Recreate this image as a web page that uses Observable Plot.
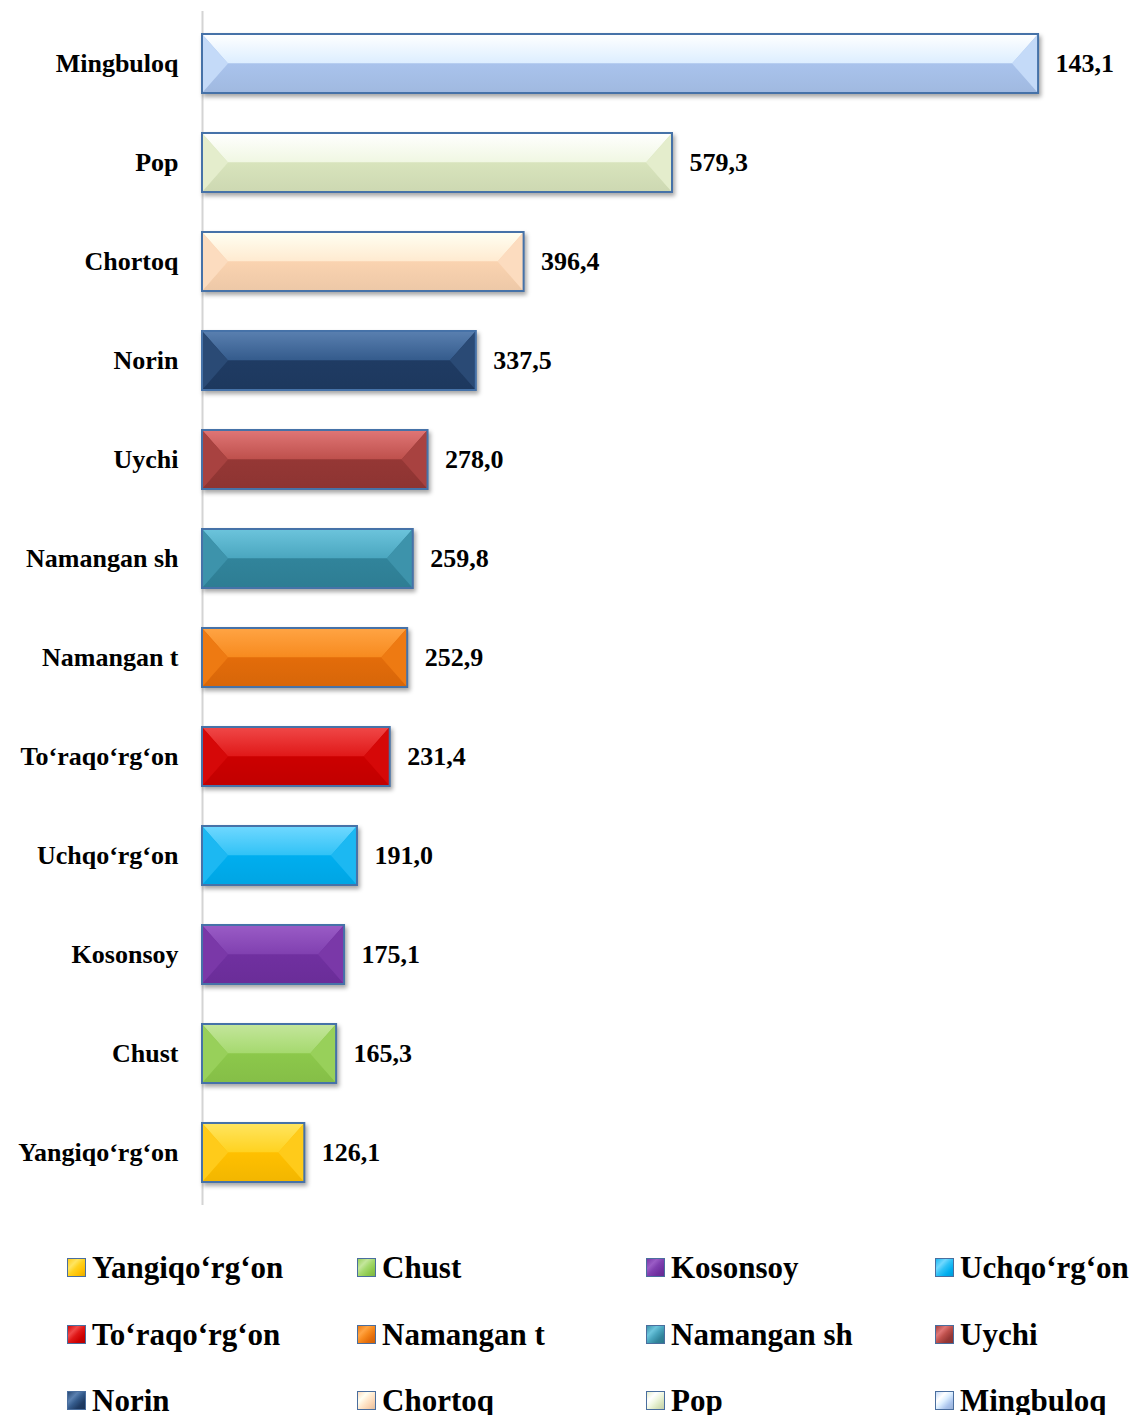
<!DOCTYPE html>
<html>
<head>
<meta charset="utf-8">
<script src="https://cdn.jsdelivr.net/npm/d3@7"></script>
<script src="https://cdn.jsdelivr.net/npm/@observablehq/plot@0.6"></script>
<style>
  body { margin: 0; background: #fff; width: 1133px; height: 1415px; overflow: hidden; }
  #wrap { position: relative; width: 1133px; height: 1415px; }
  #chart { position: absolute; left: 0; top: 0; }
  .leg { position: absolute; display: flex; align-items: center; font-family: "Liberation Serif", "Times New Roman", serif; font-weight: bold; font-size: 31px; color: #000; white-space: nowrap; line-height: 1; }
  .sw { width: 19px; height: 19px; box-sizing: border-box; border: 1.5px solid #4A6E9E; margin-right: 6px; position: relative; overflow: hidden; }
</style>
</head>
<body>
<div id="wrap">
  <div id="chart"></div>
  <div id="legend"></div>
</div>
<script>
// Categories, bottom to top as drawn
const categories = ["Yangiqo‘rg‘on", "Chust", "Kosonsoy", "Uchqo‘rg‘on", "To‘raqo‘rg‘on", "Namangan t", "Namangan sh", "Uychi", "Norin", "Chortoq", "Pop", "Mingbuloq"];
// Bar lengths
const values = [126.1, 165.3, 175.1, 191.0, 231.4, 252.9, 259.8, 278.0, 337.5, 396.4, 579.3, 1030.5];
// Value labels as printed on the chart
const valueLabels = ["126,1", "165,3", "175,1", "191,0", "231,4", "252,9", "259,8", "278,0", "337,5", "396,4", "579,3", "143,1"];
// Colours: base (lower face), top highlight, top-face bottom, side bevels
const baseColors = ["#FFC000", "#8CC84B", "#7030A0", "#00AEEF", "#CC0000", "#E36C0A", "#31849B", "#953735", "#1F3B63", "#FAD3B0", "#D8E4BC", "#A9C3EC"];
const topColors  = ["#FFE560", "#C4E69C", "#9A5CC6", "#70D8FF", "#F04848", "#FFA444", "#6CC4DC", "#E07676", "#5A80B0", "#FFFFF2", "#FFFFFF", "#FFFFFF"];
const midColors  = ["#FFD21F", "#A5D96E", "#8040B0", "#30C2F6", "#E01818", "#F78A1E", "#4AA6BF", "#BE504C", "#345B8C", "#FFEAD0", "#F0F7E2", "#DCEEFF"];
const sideColors = ["#FFCB1A", "#98D05A", "#7A38A8", "#1CB8F2", "#D60808", "#EE7A12", "#3D93AB", "#A84240", "#2A4A75", "#FCDCBF", "#E4EDCC", "#C4DAF8"];

const data = categories.map((c, i) => ({ cat: c, value: values[i], label: valueLabels[i], i }));
const yDomain = categories.slice().reverse();

const NS = "http://www.w3.org/2000/svg";
function el(tag, attrs) {
  const e = document.createElementNS(NS, tag);
  for (const k in attrs) e.setAttribute(k, attrs[k]);
  return e;
}
function bevel(index, scales, vals, dimensions, context, next) {
  const g = next(index, scales, vals, dimensions, context);
  const defs = el("defs", {});
  g.insertBefore(defs, g.firstChild);
  g.setAttribute("style", "filter: drop-shadow(2px 3px 2px rgba(0,0,0,0.35))");
  const rects = Array.from(g.querySelectorAll("rect"));
  rects.forEach((r, k) => {
    const i = data[index[k]].i;
    const x = +r.getAttribute("x"), y = +r.getAttribute("y"), w = +r.getAttribute("width"), h = +r.getAttribute("height");
    const b = Math.min(26, w / 2, h / 2);
    const ym = y + h / 2;
    const gt = el("linearGradient", { id: "gt" + i, x1: 0, y1: 0, x2: 0, y2: 1 });
    gt.appendChild(el("stop", { offset: "0%", "stop-color": topColors[i] }));
    gt.appendChild(el("stop", { offset: "100%", "stop-color": midColors[i] }));
    defs.appendChild(gt);
    const gb = el("linearGradient", { id: "gb" + i, x1: 0, y1: 0, x2: 0, y2: 1 });
    gb.appendChild(el("stop", { offset: "0%", "stop-color": baseColors[i] }));
    gb.appendChild(el("stop", { offset: "100%", "stop-color": d3.color(baseColors[i]).darker(0.15).formatHex() }));
    defs.appendChild(gb);
    const parts = [
      el("polygon", { points: `${x},${y} ${x + w},${y} ${x + w - b},${ym} ${x + b},${ym}`, fill: `url(#gt${i})` }),
      el("polygon", { points: `${x},${y + h} ${x + w},${y + h} ${x + w - b},${ym} ${x + b},${ym}`, fill: `url(#gb${i})` }),
      el("polygon", { points: `${x},${y} ${x + b},${ym} ${x},${y + h}`, fill: sideColors[i] }),
      el("polygon", { points: `${x + w},${y} ${x + w - b},${ym} ${x + w},${y + h}`, fill: sideColors[i] }),
      el("rect", { x, y, width: w, height: h, fill: "none", stroke: "#4672A8", "stroke-width": 2 })
    ];
    let ref = r.nextSibling;
    parts.forEach(p => g.insertBefore(p, ref));
  });
  return g;
}

const chart = Plot.plot({
  width: 1133,
  height: 1215,
  marginLeft: 202,
  marginRight: 0,
  marginTop: 11,
  marginBottom: 10,
  style: { fontFamily: "'Liberation Serif', 'Times New Roman', serif", fontSize: "26px", fontWeight: "bold", color: "#000", background: "#fff" },
  x: { domain: [0, 1147.5], axis: null },
  y: { domain: yDomain, paddingInner: 0.4, paddingOuter: 0.2, label: null, tickSize: 0, tickPadding: 24 },
  color: { type: "ordinal", domain: categories, range: baseColors },
  marks: [
    Plot.ruleX([0], { stroke: "#d4d4d4", strokeWidth: 2 }),
    Plot.barX(data, { x: "value", y: "cat", fill: "cat", render: bevel }),
    Plot.text(data, { x: "value", y: "cat", text: "label", dx: 17, textAnchor: "start", fontSize: 26, fontWeight: "bold", fill: "#000" }),
    Plot.axisY({ tickSize: 0, tickPadding: 24, fontSize: 26, fontWeight: "bold", label: null })
  ]
});
document.getElementById("chart").appendChild(chart);

// Legend (row-major order as in the reference)
const legendOrder = categories;
const colX = [67, 357, 646, 935];
const rowY = [1267, 1334, 1400];
const legend = document.getElementById("legend");
legendOrder.forEach((c, k) => {
  const i = categories.indexOf(c);
  const item = document.createElement("div");
  item.className = "leg";
  item.style.left = colX[k % 4] + "px";
  item.style.top = (rowY[Math.floor(k / 4)] - 16) + "px";
  item.style.height = "32px";
  const sw = document.createElement("div");
  sw.className = "sw";
  sw.style.background = `linear-gradient(135deg, ${sideColors[i]} 0%, ${topColors[i]} 30%, ${midColors[i]} 50%, ${baseColors[i]} 75%, ${d3.color(baseColors[i]).darker(0.3).formatHex()} 100%)`;
  const t = document.createElement("span");
  t.textContent = c;
  item.appendChild(sw);
  item.appendChild(t);
  legend.appendChild(item);
});
</script>
</body>
</html>
